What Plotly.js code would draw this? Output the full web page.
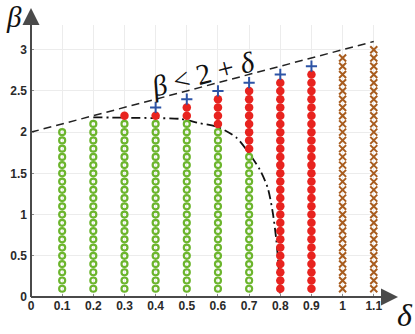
<!DOCTYPE html>
<html>
<head>
<meta charset="utf-8">
<script src="https://cdn.plot.ly/plotly-3.0.1.min.js"></script>
<style>
  html, body { margin: 0; padding: 0; background: #fff; }
  #chart { width: 415px; height: 334px; }
</style>
</head>
<body>
<div id="chart"></div>
<script>
// ---- data ---------------------------------------------------------
// one column of simulations per delta; beta sampled every 0.1
const deltas = [0.1, 0.2, 0.3, 0.4, 0.5, 0.6, 0.7, 0.8, 0.9, 1.0, 1.1];
// stable region (green rings): beta from 0.1 up to this value, null = none
const stableTop = [2.0, 2.1, 2.1, 2.1, 2.1, 2.0, 1.7, null, null, null, null];
// red dots: [from, to] beta range per column, null = none
const redFrom = [null, null, 2.2, 2.2, 2.2, 2.1, 1.8, 0.1, 0.1, null, null];
const redTo   = [null, null, 2.2, 2.2, 2.3, 2.4, 2.5, 2.6, 2.7, null, null];
// blue crosses: single beta per column
const plusAt = [null, null, null, 2.3, 2.4, 2.5, 2.6, 2.7, 2.8, null, null];
// brown x marks: beta from 0.1 up to this value
const xTop = [null, null, null, null, null, null, null, null, null, 2.9, 3.0];

// dash-dot boundary curve
const curveD = [0.2, 0.3, 0.4, 0.48, 0.54, 0.6, 0.66, 0.70, 0.735, 0.76, 0.776, 0.787, 0.795, 0.8];
const curveB = [2.18, 2.175, 2.17, 2.16, 2.11, 2.06, 1.93, 1.74, 1.54, 1.32, 1.02, 0.7, 0.35, 0.0];

// bound beta < 2 + delta, and the delta = 0 edge
const boundD = [0, 1.1];
const boundB = [2, 3.1];
const edgeD = [0, 0];
const edgeB = [0, 2];

const xTicks = [0, 0.1, 0.2, 0.3, 0.4, 0.5, 0.6, 0.7, 0.8, 0.9, 1, 1.1];
const yTicks = [0, 0.5, 1, 1.5, 2, 2.5, 3];

// expand a beta range on the 0.1 grid
const column = (from, to) => {
  const out = [];
  for (let k = Math.round(from * 10); k <= Math.round(to * 10); k++) out.push(k / 10);
  return out;
};
const gather = (fromArr, toArr) => {
  const x = [], y = [];
  deltas.forEach((d, i) => {
    if (toArr[i] == null) return;
    const f = fromArr == null ? 0.1 : fromArr[i];
    column(f, toArr[i]).forEach((b) => { x.push(d); y.push(b); });
  });
  return { x, y };
};

const green = gather(null, stableTop);
const red = gather(redFrom, redTo);
const brown = gather(null, xTop);
const plus = { x: [], y: [] };
deltas.forEach((d, i) => { if (plusAt[i] != null) { plus.x.push(d); plus.y.push(plusAt[i]); } });

const AXIS = '#4a4a4a';

const traces = [
  { x: boundD, y: boundB, mode: 'lines', line: { color: '#222', width: 1.5, dash: '8px,5px' } },
  { x: edgeD, y: edgeB, mode: 'lines', line: { color: '#222', width: 1.5, dash: '8px,5px' } },
  { x: curveD, y: curveB, mode: 'lines', line: { color: '#111', width: 1.8, dash: '9px,4px,2px,4px', shape: 'spline', smoothing: 0.8 } },
  { x: green.x, y: green.y, mode: 'markers',
    marker: { symbol: 'circle-open', size: 6, color: '#6cb52d', line: { width: 2.2, color: '#6cb52d' } } },
  { x: red.x, y: red.y, mode: 'markers',
    marker: { symbol: 'circle', size: 8.5, color: '#e8231f', line: { width: 0 } } },
  { x: plus.x, y: plus.y, mode: 'markers',
    marker: { symbol: 'cross-thin-open', size: 8, color: '#2d54a6', line: { width: 2, color: '#2d54a6' } } },
  { x: brown.x, y: brown.y, mode: 'markers',
    marker: { symbol: 'x-thin-open', size: 7, color: '#a85c1e', line: { width: 2, color: '#a85c1e' } } },
];

const tickFont = { family: 'Liberation Sans, Arial, sans-serif', size: 12, color: '#2a2a2a', weight: 'bold' };
const mathFont = { family: 'Liberation Serif, DejaVu Serif, serif', color: '#111' };

const layout = {
  width: 415, height: 334,
  margin: { l: 31, r: 35, t: 25, b: 37 },
  paper_bgcolor: '#fff', plot_bgcolor: '#fff',
  showlegend: false,
  xaxis: {
    range: [0, 1.12], tickvals: xTicks, ticktext: xTicks.map(String),
    showgrid: true, gridcolor: '#ececec', gridwidth: 1, zeroline: false,
    ticks: 'inside', ticklen: 3, tickcolor: '#888', tickfont: tickFont,
    showline: false, fixedrange: true,
  },
  yaxis: {
    range: [0, 3.3], tickvals: yTicks, ticktext: yTicks.map(String),
    showgrid: true, gridcolor: '#ececec', gridwidth: 1, zeroline: false,
    ticks: 'inside', ticklen: 3, tickcolor: '#888', tickfont: tickFont,
    ticklabelstandoff: 3,
    showline: false, fixedrange: true,
  },
  shapes: [
    // axis shafts, running out past the plot area
    { type: 'line', xref: 'paper', yref: 'paper', x0: 0, y0: 0, x1: 0, y1: 1.04,
      line: { color: AXIS, width: 2 }, layer: 'above' },
    { type: 'line', xref: 'paper', yref: 'paper', x0: 0, y0: 0, x1: 1.03, y1: 0,
      line: { color: AXIS, width: 2 }, layer: 'above' },
  ],
  annotations: [
    // arrow heads
    { xref: 'paper', yref: 'paper', x: 0, y: 1.0625, ax: 0, ay: 30, text: '',
      showarrow: true, arrowhead: 2, arrowsize: 1.7, arrowwidth: 2, arrowcolor: AXIS },
    { xref: 'paper', yref: 'paper', x: 1.0516, y: 0, ax: -30, ay: 0, text: '',
      showarrow: true, arrowhead: 2, arrowsize: 1.7, arrowwidth: 2, arrowcolor: AXIS },
    // axis names
    { xref: 'paper', yref: 'paper', x: -0.05, y: 1.03, xanchor: 'center', yanchor: 'middle',
      showarrow: false, text: '<i>β</i>', font: { ...mathFont, size: 29 } },
    { xref: 'paper', yref: 'paper', x: 1.072, y: -0.065, xanchor: 'center', yanchor: 'middle',
      showarrow: false, text: '<i>δ</i>', font: { ...mathFont, size: 32 } },
    // bound label along the dashed line
    { x: 0.552, y: 2.70, xanchor: 'center', yanchor: 'middle', showarrow: false, textangle: -14.5,
      text: '<i>β</i> &lt; 2 + <i>δ</i>', font: { ...mathFont, size: 29 } },
  ],
};

Plotly.newPlot('chart', traces, layout, { displayModeBar: false, staticPlot: true });
</script>
</body>
</html>
